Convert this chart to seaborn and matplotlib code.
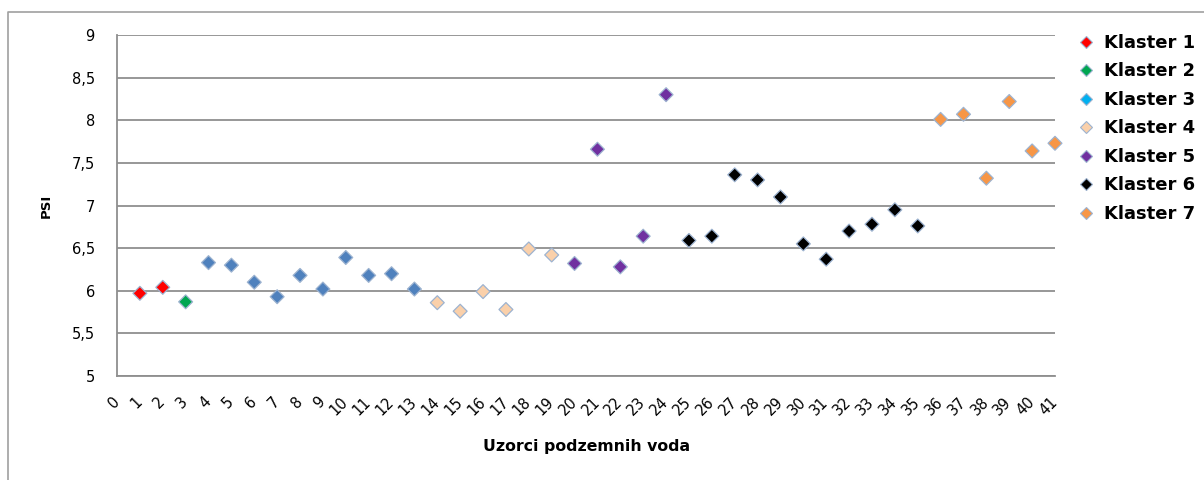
import matplotlib
matplotlib.use("Agg")
import matplotlib.pyplot as plt
from matplotlib.lines import Line2D
from matplotlib.ticker import FixedLocator, FuncFormatter
import seaborn as sns
import pandas as pd

# Groundwater samples, their PSI values and cluster membership
uzorci = list(range(1, 42))
psi = [5.97, 6.04, 5.87, 6.33, 6.30, 6.10, 5.93, 6.18, 6.02, 6.39,
       6.18, 6.20, 6.02, 5.86, 5.76, 5.99, 5.78, 6.49, 6.42, 6.32,
       7.66, 6.28, 6.64, 8.30, 6.59, 6.64, 7.36, 7.30, 7.10, 6.55,
       6.37, 6.70, 6.78, 6.95, 6.76, 8.01, 8.07, 7.32, 8.22, 7.64,
       7.73]
klasteri = (["Klaster 1"] * 2 + ["Klaster 2"] * 1 + ["Klaster 3"] * 10 +
            ["Klaster 4"] * 6 + ["Klaster 5"] * 5 + ["Klaster 6"] * 11 +
            ["Klaster 7"] * 6)
nazivi_klastera = ["Klaster 1", "Klaster 2", "Klaster 3", "Klaster 4",
                   "Klaster 5", "Klaster 6", "Klaster 7"]
y_oznake = [5, 5.5, 6, 6.5, 7, 7.5, 8, 8.5, 9]
x_oznake = list(range(0, 42))

boje_tocaka = {"Klaster 1": "#FF0000", "Klaster 2": "#00A651",
               "Klaster 3": "#4F81BD", "Klaster 4": "#FAD0AA",
               "Klaster 5": "#7030A0", "Klaster 6": "#000000",
               "Klaster 7": "#F79646"}
boje_legende = dict(boje_tocaka)
boje_legende["Klaster 3"] = "#00B0F0"
rub = "#9DB3D0"

df = pd.DataFrame({"uzorak": uzorci, "psi": psi, "klaster": klasteri})

sns.set_style("white")
plt.rcParams["font.family"] = ["DejaVu Sans"]
plt.rcParams["text.color"] = "#000000"

fig = plt.figure(figsize=(12.04, 4.8), dpi=100)
ax = fig.add_axes([117 / 1204, 1 - 376 / 480, (1055 - 117) / 1204, (376 - 35) / 480])

sns.scatterplot(data=df, x="uzorak", y="psi", hue="klaster", palette=boje_tocaka,
                hue_order=nazivi_klastera, marker="D", s=50, edgecolor=rub,
                linewidth=0.9, legend=False, ax=ax, clip_on=False, zorder=3)

ax.set_xlim(0, 41)
ax.set_ylim(5, 9)
ax.yaxis.set_major_locator(FixedLocator(y_oznake))
ax.yaxis.set_major_formatter(FuncFormatter(lambda v, p: f"{v:g}".replace(".", ",")))
ax.xaxis.set_major_locator(FixedLocator(x_oznake))
ax.set_xticklabels([str(v) for v in x_oznake], rotation=45, ha="right",
                   va="center", rotation_mode="anchor")

ax.grid(axis="y", color="#8F8F8F", linewidth=1.3)
ax.grid(axis="x", visible=False)
ax.set_axisbelow(True)
for s in ["top", "right"]:
    ax.spines[s].set_visible(False)
for s in ["left", "bottom"]:
    ax.spines[s].set_color("#8F8F8F")
    ax.spines[s].set_linewidth(1.3)

ax.tick_params(axis="y", length=0, pad=16, labelsize=10.5, labelcolor="#000000")
ax.tick_params(axis="x", length=0, pad=17, labelsize=10.5, labelcolor="#000000")
ax.set_xlabel("")
ax.set_ylabel("")

fig.text(46 / 1204, 1 - 206 / 480, "PSI", rotation=90, ha="center", va="center",
         fontsize=9.5, fontweight="bold")
fig.text(587 / 1204, 1 - 446 / 480, "Uzorci podzemnih voda", ha="center",
         va="center", fontsize=11.3, fontweight="bold")

# outer chart frame (top and left edges)
fig.add_artist(Line2D([8 / 1204, 8 / 1204, 1.0], [0.0, 1 - 12 / 480, 1 - 12 / 480],
                      transform=fig.transFigure, color="#A0A0A0", linewidth=1.2))

rucke = [Line2D([0], [0], marker="D", linestyle="none", markersize=5.8,
                markerfacecolor=boje_legende[k], markeredgecolor=rub,
                markeredgewidth=0.8, label=k) for k in nazivi_klastera]
fig.legend(handles=rucke, loc="upper left", bbox_to_anchor=(1077 / 1204, 1 - 34 / 480),
           frameon=False, handlelength=1.0, handletextpad=0.5, labelspacing=0.58,
           borderpad=0, borderaxespad=0, labelcolor="#000000",
           prop={"family": "DejaVu Sans", "weight": "bold", "size": 13})

fig.savefig("out.png", dpi=100)
